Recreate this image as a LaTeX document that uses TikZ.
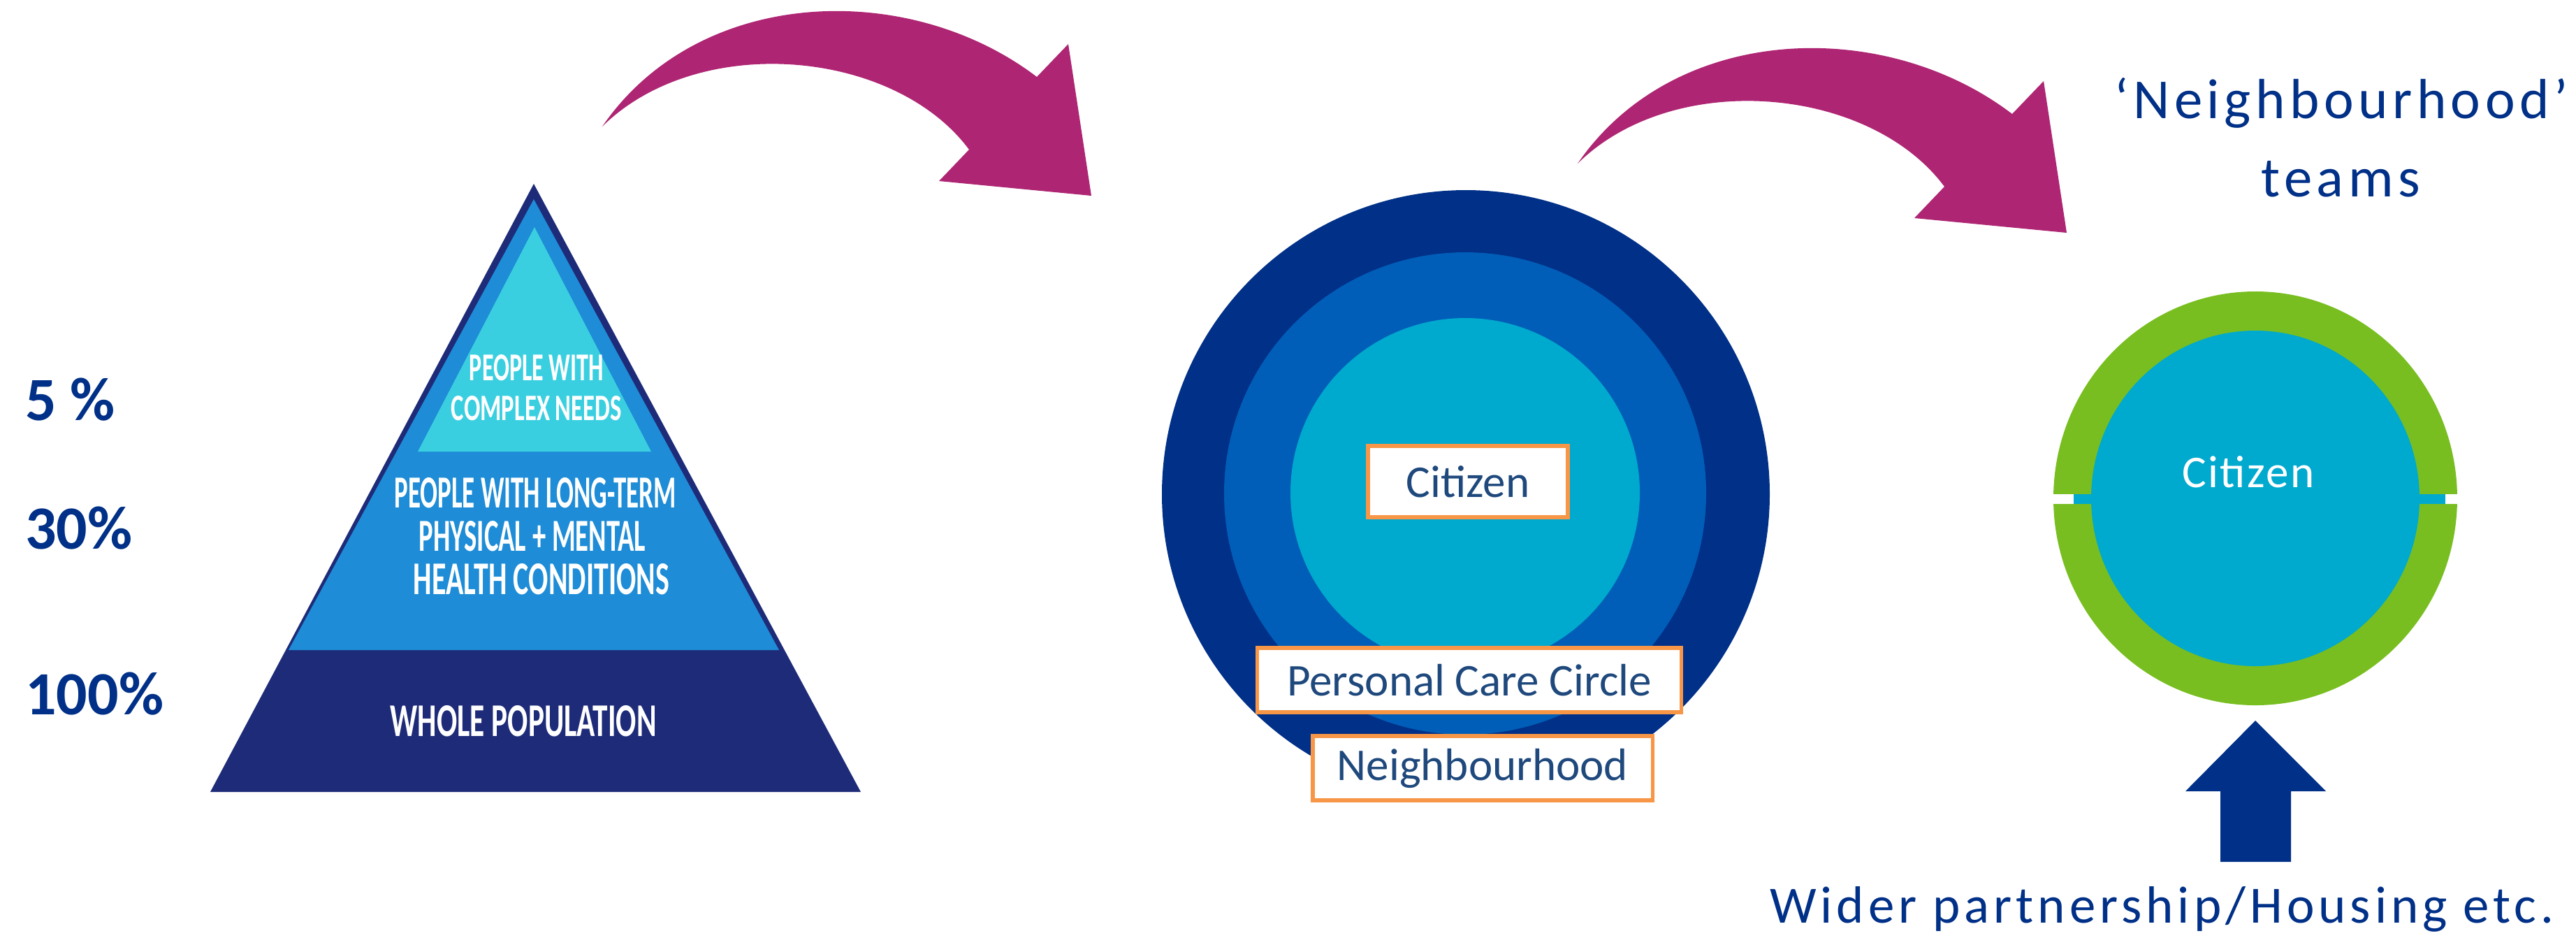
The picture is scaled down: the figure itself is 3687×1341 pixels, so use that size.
\documentclass[tikz,border=0pt]{standalone}
\usepackage{fontspec}
\setmainfont{Carlito}
\newfontfamily\widefont[LetterSpace=8]{Carlito}
\newfontfamily\citfont[LetterSpace=4]{Carlito}
\usepackage{graphicx}
\usetikzlibrary{positioning}

\definecolor{nhsnavy}{HTML}{003087}
\definecolor{nhsblue}{HTML}{005EB8}
\definecolor{nhsaqua}{HTML}{00A9CE}
\definecolor{nhsgreen}{HTML}{78BE20}
\definecolor{nhspink}{HTML}{AE2573}
\definecolor{boxorange}{HTML}{F79646}
\definecolor{boxtext}{HTML}{1F497D}
\definecolor{pyrnavy}{HTML}{1E2B78}
\definecolor{pyrmid}{HTML}{1E8CD6}
\definecolor{pyrtop}{HTML}{3ACFE0}

% squeezed capitals for the pyramid: width, cap height (cm), text
\newcommand{\capsline}[3]{\resizebox{#1cm}{#2cm}{\bfseries #3}}

\tikzset{
  labelbox/.style={draw=boxorange, line width=1.5pt, fill=white, text=boxtext,
    font=\fontsize{18.5}{22}\selectfont, inner sep=0pt},
  pct/.style={anchor=base west, text=nhsnavy, font=\fontsize{25}{29}\selectfont\bfseries},
  capsline/.style={text=white, inner sep=0pt},
  pics/swoop/.style={code={
    \fill[nhspink] (0,0) .. controls (138,-201) and (438,-211) .. (622,-71)
      -- (667,-118) -- (700,99) -- (482,78) -- (525,33)
      .. controls (418,-111) and (138,-136) .. (0,0) -- cycle;
  }}
}

\begin{document}
\begin{tikzpicture}[x=0.01cm, y=-0.01cm]
\useasboundingbox (0,0) rectangle (3687,1341);

% percentages
\node[pct] (p5) at (24,601) {5 \%};
\node[pct] (p30) at (24,785) {30\%};
\node[pct] (p100) at (24,1022) {100\%};

% pyramid
\fill[pyrnavy] (764,263) -- (1232,1133) -- (301,1133) -- cycle;
\fill[pyrmid] (764,285) -- (1115,930) -- (413,930) -- cycle;
\fill[pyrtop] (765,325) -- (932,646) -- (598,646) -- cycle;
\node[capsline] (top1) at (768,526) {\capsline{1.92}{0.37}{PEOPLE WITH}};
\node[capsline] (top2) at (768,584) {\capsline{2.44}{0.35}{COMPLEX NEEDS}};
\node[capsline] (mid1) at (766,705) {\capsline{4.03}{0.43}{PEOPLE WITH LONG-TERM}};
\node[capsline] (mid2) at (762,767) {\capsline{3.24}{0.43}{PHYSICAL + MENTAL}};
\node[capsline] (mid3) at (775,829) {\capsline{3.66}{0.44}{HEALTH CONDITIONS}};
\node[capsline] (base) at (749,1032) {\capsline{3.81}{0.44}{WHOLE POPULATION}};

% curved arrows
\pic at (862,181) {swoop};
\pic at (2258,234) {swoop};

% circles of care
\fill[nhsnavy] (2098,707) circle[radius=435];
\fill[nhsblue] (2097,706) circle[radius=345];
\fill[nhsaqua] (2097,705) circle[radius=250];
\node[labelbox, minimum width=2.86cm, minimum height=1.02cm] (citizen) at (2101,689) {Citizen};
\node[labelbox, minimum width=6.07cm, minimum height=0.92cm] (pcc) at (2103,973) {Personal Care Circle};
\node[labelbox, minimum width=4.86cm, minimum height=0.92cm] (nbh) at (2122,1099) {Neighbourhood};

% neighbourhood team ring
\fill[nhsgreen] (3228,713) ellipse[x radius=289, y radius=296];
\fill[nhsaqua] (3228,713) ellipse[x radius=235, y radius=240];
\fill[white] (2935,707) rectangle (3522,721);
\fill[nhsaqua] (2968,707) rectangle (3500,721);
\node[anchor=base, text=white, font=\citfont\fontsize{18.5}{22}\selectfont] (ctz) at (3218,697) {Citizen};

\node[anchor=base, text=nhsnavy, font=\widefont\fontsize{23}{27}\selectfont] (nteam) at (3351,169) {‘Neighbourhood’};
\node[anchor=base, text=nhsnavy, font=\widefont\fontsize{23}{27}\selectfont] (teams) at (3350,281) {teams};

% support arrow
\fill[nhsnavy] (3228,1031) -- (3329,1132) -- (3279,1132) -- (3279,1233)
  -- (3178,1233) -- (3178,1132) -- (3128,1132) -- cycle;
\node[anchor=base east, text=nhsnavy, font=\widefont\fontsize{21.3}{25}\selectfont] (wider) at (3668,1320) {Wider partnership/Housing etc.};
\end{tikzpicture}
\end{document}
